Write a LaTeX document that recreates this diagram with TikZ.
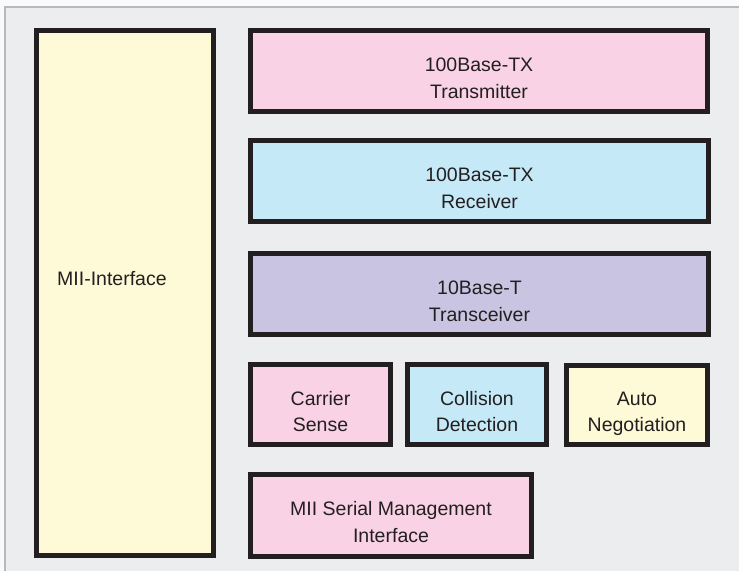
\documentclass[tikz,border=0pt]{standalone}
\usepackage{fontspec}
\setmainfont{Liberation Sans}
\definecolor{bgout}{HTML}{FAFAFA}
\definecolor{panel}{HTML}{ECEDEF}
\definecolor{panelline}{HTML}{B5BABE}
\definecolor{boxline}{HTML}{231F20}
\definecolor{txtcol}{HTML}{231F20}
\definecolor{cpink}{HTML}{F9D3E5}
\definecolor{cblue}{HTML}{C6E9F8}
\definecolor{cpurple}{HTML}{C8C4E2}
\definecolor{cyellow}{HTML}{FEF9D6}
\tikzset{
  blk/.style={draw=boxline, line width=5.3pt, inner sep=0pt, rectangle},
  lbl/.style={anchor=base, inner sep=0pt, text=txtcol, font=\fontsize{19.5}{26}\selectfont},
}
\begin{document}
\begin{tikzpicture}[x=1pt,y=-1pt]
\useasboundingbox (0,0) rectangle (739,571);
\fill[bgout] (0,0) rectangle (739,571);
\fill[panel] (5,7) rectangle (739,571);
\draw[panelline, line width=2pt] (5,571) -- (5,7) -- (739,7);

\node[blk, fill=cyellow, minimum width=176.7pt, minimum height=524.7pt] (mii) at (125,293) {};
\node[blk, fill=cpink, minimum width=456.7pt, minimum height=80.7pt] (tx) at (479,71) {};
\node[blk, fill=cblue, minimum width=457.7pt, minimum height=80.7pt] (rx) at (479.5,181) {};
\node[blk, fill=cpurple, minimum width=457.7pt, minimum height=80.7pt] (trc) at (479.5,294) {};
\node[blk, fill=cpink, minimum width=139.7pt, minimum height=79.7pt] (cs) at (320.5,404.5) {};
\node[blk, fill=cblue, minimum width=138.7pt, minimum height=79.7pt] (cd) at (477,404.5) {};
\node[blk, fill=cyellow, minimum width=140.7pt, minimum height=78.7pt] (an) at (637,405) {};
\node[blk, fill=cpink, minimum width=280.7pt, minimum height=81.7pt] (ms) at (391,515.5) {};

\node[lbl, anchor=base west] (miit) at (57,285) {MII-Interface};
\node[lbl] (txa) at (479,71.3) {100Base-TX};
\node[lbl] (txb) at (479,98) {Transmitter};
\node[lbl] (rxa) at (479.5,181.3) {100Base-TX};
\node[lbl] (rxb) at (479.5,208) {Receiver};
\node[lbl] (trca) at (479.5,294.3) {10Base-T};
\node[lbl] (trcb) at (479.5,321) {Transceiver};
\node[lbl] (csa) at (320.5,405) {Carrier};
\node[lbl] (csb) at (320.5,431) {Sense};
\node[lbl] (cda) at (477,405) {Collision};
\node[lbl] (cdb) at (477,431) {Detection};
\node[lbl] (ana) at (637,405) {Auto};
\node[lbl] (anb) at (637,431) {Negotiation};
\node[lbl] (msa) at (391,515.7) {MII Serial Management};
\node[lbl] (msb) at (391,542.3) {Interface};
\end{tikzpicture}
\end{document}
